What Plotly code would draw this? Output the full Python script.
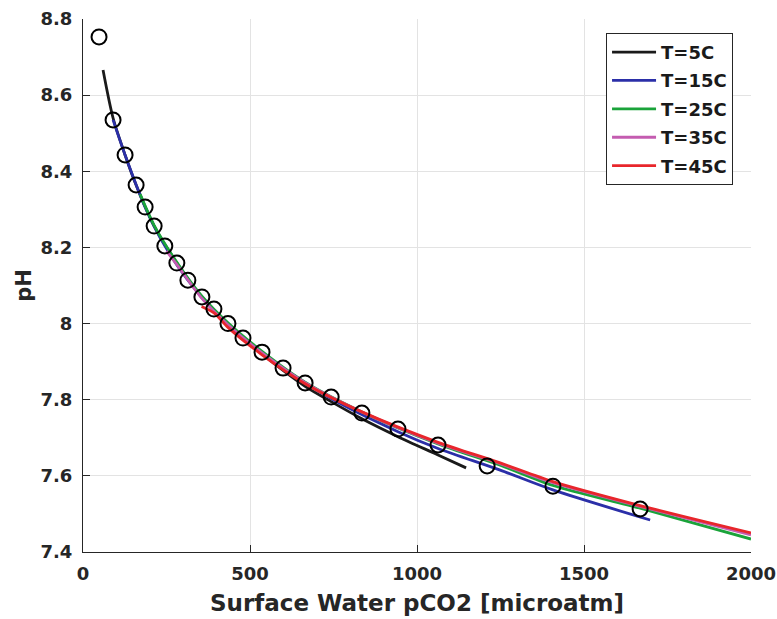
import plotly.graph_objects as go

# Observed data (circles)
obs_pco2 = [48, 90, 126, 159, 186, 213, 245, 281, 314, 356, 392, 434, 479, 536,
            599, 665, 743, 835, 943, 1063, 1210, 1407, 1668]
obs_ph = [8.753, 8.535, 8.443, 8.364, 8.306, 8.256, 8.204, 8.159, 8.114, 8.070,
          8.038, 8.000, 7.962, 7.925, 7.883, 7.844, 7.807, 7.765, 7.723, 7.681,
          7.626, 7.573, 7.513]

# Model curves
t5_pco2 = [60, 90, 126, 159, 213, 281, 356, 434, 536, 665, 743, 835, 943, 1063, 1147]
t5_ph = [8.666, 8.540, 8.443, 8.364, 8.256, 8.159, 8.068, 7.997, 7.920, 7.835,
         7.795, 7.750, 7.703, 7.655, 7.621]

t15_pco2 = [90, 126, 186, 245, 314, 392, 479, 599, 743, 943, 1063, 1249, 1407, 1698]
t15_ph = [8.535, 8.443, 8.306, 8.204, 8.114, 8.036, 7.962, 7.883, 7.803, 7.716,
          7.672, 7.615, 7.563, 7.484]

t25_pco2 = [171, 213, 281, 356, 434, 536, 665, 835, 1063, 1249, 1407, 1668, 2000]
t25_ph = [8.340, 8.258, 8.161, 8.072, 8.002, 7.927, 7.846, 7.768, 7.684, 7.628,
          7.575, 7.515, 7.434]

t35_pco2 = [250, 281, 356, 434, 536, 665, 835, 1063, 1249, 1407, 1668, 2000]
t35_ph = [8.190, 8.155, 8.066, 7.997, 7.923, 7.845, 7.768, 7.686, 7.632, 7.582,
          7.520, 7.445]

t45_pco2 = [355, 392, 434, 536, 665, 835, 1063, 1249, 1407, 1668, 2000]
t45_ph = [8.045, 8.028, 7.990, 7.918, 7.842, 7.768, 7.688, 7.634, 7.585, 7.522, 7.450]

series = [
    ("T=5C", t5_pco2, t5_ph, "#1a1a1a"),
    ("T=15C", t15_pco2, t15_ph, "#2b2fa8"),
    ("T=25C", t25_pco2, t25_ph, "#1aa33a"),
    ("T=35C", t35_pco2, t35_ph, "#c45cb0"),
    ("T=45C", t45_pco2, t45_ph, "#e8262b"),
]

fig = go.Figure()
for name, xs, ys, col in series:
    fig.add_trace(go.Scatter(x=xs, y=ys, mode="lines", name=name, legendgroup=name,
                             line=dict(color=col, width=2.8, shape="spline", smoothing=0.8)))

fig.add_trace(go.Scatter(x=obs_pco2, y=obs_ph, mode="markers", showlegend=False,
                         marker=dict(symbol="circle-open", size=15, color="black",
                                     line=dict(width=2, color="black"))))

font_fam = "DejaVu Sans, sans-serif"
fig.update_layout(
    width=777, height=619,
    margin=dict(l=83, r=26, t=19, b=67),
    paper_bgcolor="white", plot_bgcolor="white",
    font=dict(family=font_fam, color="#262626"),
    showlegend=True,
    legend=dict(x=0.783, y=0.974, xanchor="left", yanchor="top",
                bgcolor="white", bordercolor="#262626", borderwidth=1,
                font=dict(size=18, family=font_fam, color="#1a1a1a", weight="bold"),
                tracegroupgap=2, traceorder="grouped", itemwidth=44),
    xaxis=dict(range=[0, 2000], tickvals=[0, 500, 1000, 1500, 2000],
               ticks="inside", ticklen=7, tickcolor="#262626",
               showline=True, linecolor="#262626", linewidth=1,
               showgrid=True, gridcolor="#e3e3e3", gridwidth=1, zeroline=False,
               automargin=False, ticklabelstandoff=5,
               tickfont=dict(size=18, weight="bold"),
               title=dict(text="Surface Water pCO2 [microatm]",
                          font=dict(size=23, weight="bold"), standoff=12)),
    yaxis=dict(range=[7.4, 8.8], tickvals=[7.4, 7.6, 7.8, 8.0, 8.2, 8.4, 8.6, 8.8],
               ticktext=["7.4", "7.6", "7.8", "8", "8.2", "8.4", "8.6", "8.8"],
               ticks="inside", ticklen=7, tickcolor="#262626",
               showline=True, linecolor="#262626", linewidth=1,
               showgrid=True, gridcolor="#e3e3e3", gridwidth=1, zeroline=False,
               automargin=False, ticklabelstandoff=6,
               tickfont=dict(size=18, weight="bold"),
               title=dict(text="pH", font=dict(size=21, weight="bold"), standoff=3)),
)

fig.write_html("out.html")
